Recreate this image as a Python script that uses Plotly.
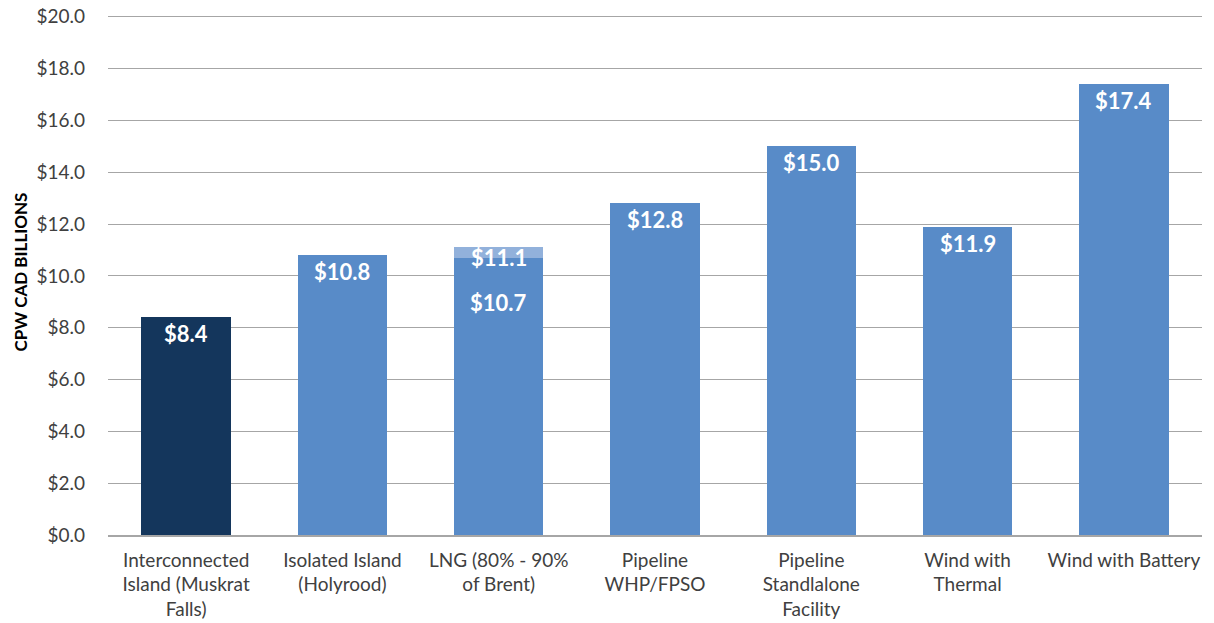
import plotly.graph_objects as go

categories = ["Interconnected<br>Island (Muskrat<br>Falls)", "Isolated Island<br>(Holyrood)",
              "LNG (80% - 90%<br>of Brent)", "Pipeline<br>WHP/FPSO", "Pipeline<br>Standlalone<br>Facility",
              "Wind with<br>Thermal", "Wind with Battery"]
base_values = [8.4, 10.8, 10.7, 12.8, 15.0, 11.9, 17.4]
upper_extra = [0, 0, 0.4, 0, 0, 0, 0]
totals = [8.4, 10.8, 11.1, 12.8, 15.0, 11.9, 17.4]
y_ticks = [0, 2, 4, 6, 8, 10, 12, 14, 16, 18, 20]
tick_text = ["$%.1f" % v for v in y_ticks]

navy = "#14365C"
blue = "#588BC8"
light = "#92B1DB"
base_colors = [navy] + [blue] * 6
FONT = "Lato, Open Sans, sans-serif"

fig = go.Figure()
fig.add_trace(go.Bar(x=categories, y=base_values, marker_color=base_colors,
                     marker_line_width=0, width=0.573, hoverinfo="skip"))
fig.add_trace(go.Bar(x=categories, y=upper_extra, marker_color=light,
                     marker_line_width=0, width=0.573, hoverinfo="skip"))

annos = []
for i, (c, t) in enumerate(zip(categories, totals)):
    shift = 5 if upper_extra[i] > 0 else -1
    annos.append(dict(x=c, y=t, text="<b>$%.1f</b>" % t, showarrow=False, yanchor="top",
                      yshift=shift, font=dict(family=FONT, size=22, color="white")))
# inner label of the LNG lower segment
annos.append(dict(x=categories[2], y=base_values[2], text="<b>$%.1f</b>" % base_values[2], showarrow=False,
                  yanchor="top", yshift=-29, font=dict(family=FONT, size=22, color="white")))

fig.update_layout(
    barmode="stack",
    width=1214, height=623,
    margin=dict(l=100, r=20, t=1, b=96, autoexpand=False),
    plot_bgcolor="white", paper_bgcolor="white",
    showlegend=False,
    font=dict(family=FONT, size=18, color="#404040"),
    annotations=annos,
    xaxis=dict(showgrid=False, showline=True, linecolor="#A6A6A6", linewidth=1.5,
               ticks="", tickfont=dict(size=19, color="#404040"), automargin=False,
               ticklabelstandoff=7),
    yaxis=dict(range=[0, 20.3], tickvals=y_ticks, ticktext=tick_text, showgrid=True,
               gridcolor="#A6A6A6", gridwidth=1.2, zeroline=False, ticks="", ticklen=0,
               tickfont=dict(size=19, color="#404040"), automargin=False,
               ticklabelstandoff=22, ticklabeloverflow="allow",
               title=dict(text="<b>CPW CAD BILLIONS</b>", font=dict(size=17, color="#000000"), standoff=4)),
)

fig.write_html("out.html")
